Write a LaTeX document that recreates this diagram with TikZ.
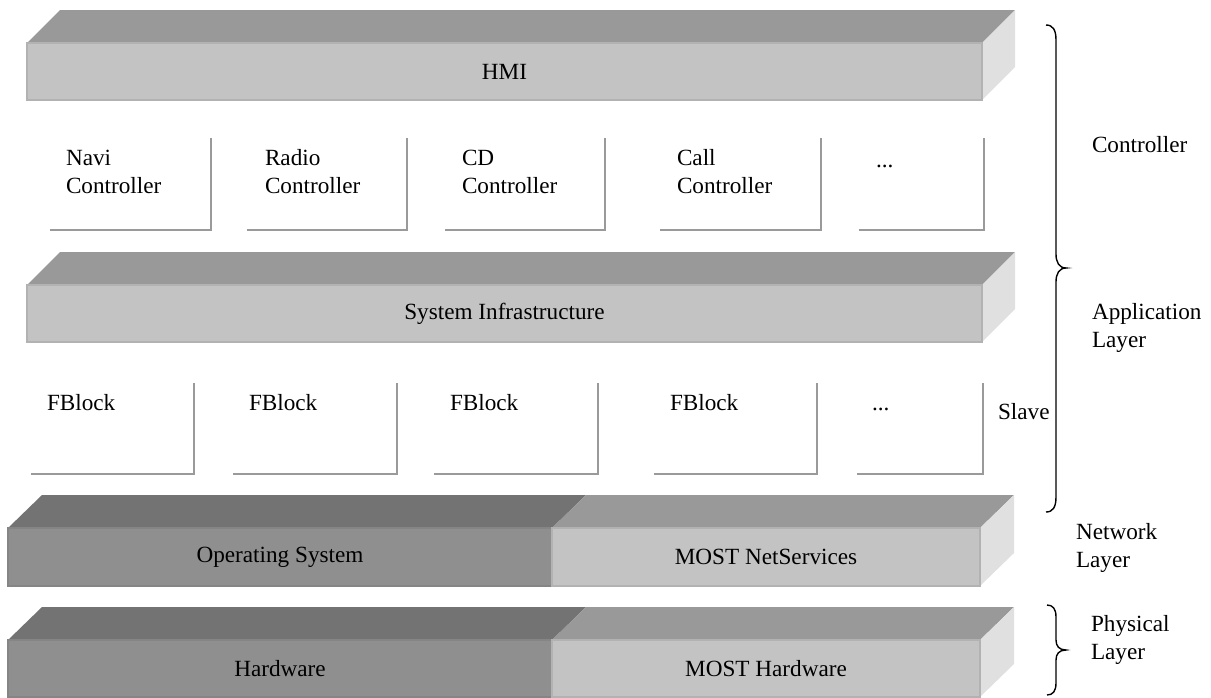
\documentclass[tikz,border=0pt]{standalone}
\usepackage{fontspec}
\setmainfont{Liberation Serif}
\definecolor{topgray}{HTML}{999999}
\definecolor{frontgray}{HTML}{C3C3C3}
\definecolor{sidegray}{HTML}{E0E0E0}
\definecolor{darktop}{HTML}{737373}
\definecolor{darkfront}{HTML}{8F8F8F}
\definecolor{edgegray}{HTML}{B2B2B2}
\definecolor{darkedge}{HTML}{858585}
\definecolor{boxline}{HTML}{9A9A9A}
\tikzset{
  txt/.style={inner sep=0pt, outer sep=0pt},
  lbl/.style={txt, anchor=base west, align=left},
  frontface/.style={fill=frontgray, draw=edgegray, line width=0.8pt},
  darkface/.style={fill=darkfront, draw=darkedge, line width=0.8pt},
  modbox/.style={draw=boxline, line width=1pt},
  brace/.style={draw=black, line width=0.7pt},
}
% slab with one light front face: x-left, x-right, front top, front bottom
\newcommand\lightslab[4]{%
  \fill[topgray] (#1,#3) -- (#1+33,#3-33) -- (#2+33,#3-33) -- (#2,#3) -- cycle;
  \fill[sidegray] (#2,#3) -- (#2+33,#3-33) -- (#2+33,#4-33) -- (#2,#4) -- cycle;
  \path[frontface] (#1,#3) rectangle (#2,#4);
}
% slab split into a dark left part and a light right part
\newcommand\splitslab[5]{%
  \fill[darktop] (#1,#4) -- (#1+34,#4-33) -- (#2+34,#4-33) -- (#2,#4) -- cycle;
  \fill[topgray] (#2,#4) -- (#2+34,#4-33) -- (#3+34,#4-33) -- (#3,#4) -- cycle;
  \fill[sidegray] (#3,#4) -- (#3+34,#4-33) -- (#3+34,#5-33) -- (#3,#5) -- cycle;
  \path[darkface] (#1,#4) rectangle (#2,#5);
  \path[frontface] (#2,#4) rectangle (#3,#5);
}
% open module frame: bottom and right edges only
\newcommand\modframe[4]{\draw[modbox] (#1,#4) -| (#2,#3);}
\begin{document}
\begin{tikzpicture}[x=0.5pt, y=-0.5pt, font=\fontsize{11.6}{14}\selectfont]
\useasboundingbox (0,0) rectangle (1211,697);

% HMI
\lightslab{27}{982}{43}{100}
\node[txt] (hmi) at (504.5,71.5) {HMI};

% controllers
\modframe{50}{211}{138}{230}
\modframe{247}{407}{138}{230}
\modframe{445}{605}{138}{230}
\modframe{660}{821}{138}{230}
\modframe{859}{984}{138}{230}
\node[lbl] (navi) at (66,193) {Navi\\Controller};
\node[lbl] (radio) at (265,193) {Radio\\Controller};
\node[lbl] (cd) at (462,193) {CD\\Controller};
\node[lbl] (call) at (677,193) {Call\\Controller};
\node[lbl] (ctlmore) at (876,167) {...};

% system infrastructure
\lightslab{27}{982}{285}{342}
\node[txt] (sysinf) at (504.5,313.5) {System Infrastructure};

% function blocks
\modframe{31}{194}{383}{474}
\modframe{233}{397}{383}{474}
\modframe{434}{598}{383}{474}
\modframe{654}{817}{383}{474}
\modframe{857}{983}{383}{474}
\node[lbl] (fb1) at (47,410) {FBlock};
\node[lbl] (fb2) at (249,410) {FBlock};
\node[lbl] (fb3) at (450,410) {FBlock};
\node[lbl] (fb4) at (670,410) {FBlock};
\node[lbl] (fbmore) at (872,410) {...};
\node[lbl] (slave) at (998,419) {Slave};

% network layer
\splitslab{8}{552}{980}{528}{586}
\node[txt] (os) at (280,557) {Operating System};
\node[txt] (netsrv) at (766,557) {MOST NetServices};

% physical layer
\splitslab{8}{552}{980}{640}{697}
\node[txt] (hw) at (280,668.5) {Hardware};
\node[txt] (mosthw) at (766,668.5) {MOST Hardware};

% layer labels
\node[lbl] (lctl) at (1092,152) {Controller};
\node[lbl] (lapp) at (1092,347) {Application\\Layer};
\node[lbl] (lnet) at (1076,567) {Network\\Layer};
\node[lbl] (lphy) at (1091,659) {Physical\\Layer};

% braces
\coordinate (appA) at (1046,25);
\coordinate (appB) at (1046,512);
\draw[brace] (appA) .. controls (1053,25) and (1056,30) .. (1056,40)
  -- (1056,254) .. controls (1056,262) and (1059,268) .. (1066,268)
  .. controls (1059,268) and (1056,274) .. (1056,282)
  -- (1056,497) .. controls (1056,507) and (1053,512) .. (appB);
\coordinate (phyA) at (1047,605);
\coordinate (phyB) at (1047,695);
\draw[brace] (phyA) .. controls (1053,605) and (1056,609) .. (1056,617)
  -- (1056,640) .. controls (1056,646) and (1059,650) .. (1066,650)
  .. controls (1059,650) and (1056,654) .. (1056,660)
  -- (1056,683) .. controls (1056,691) and (1053,695) .. (phyB);
\end{tikzpicture}
\end{document}
